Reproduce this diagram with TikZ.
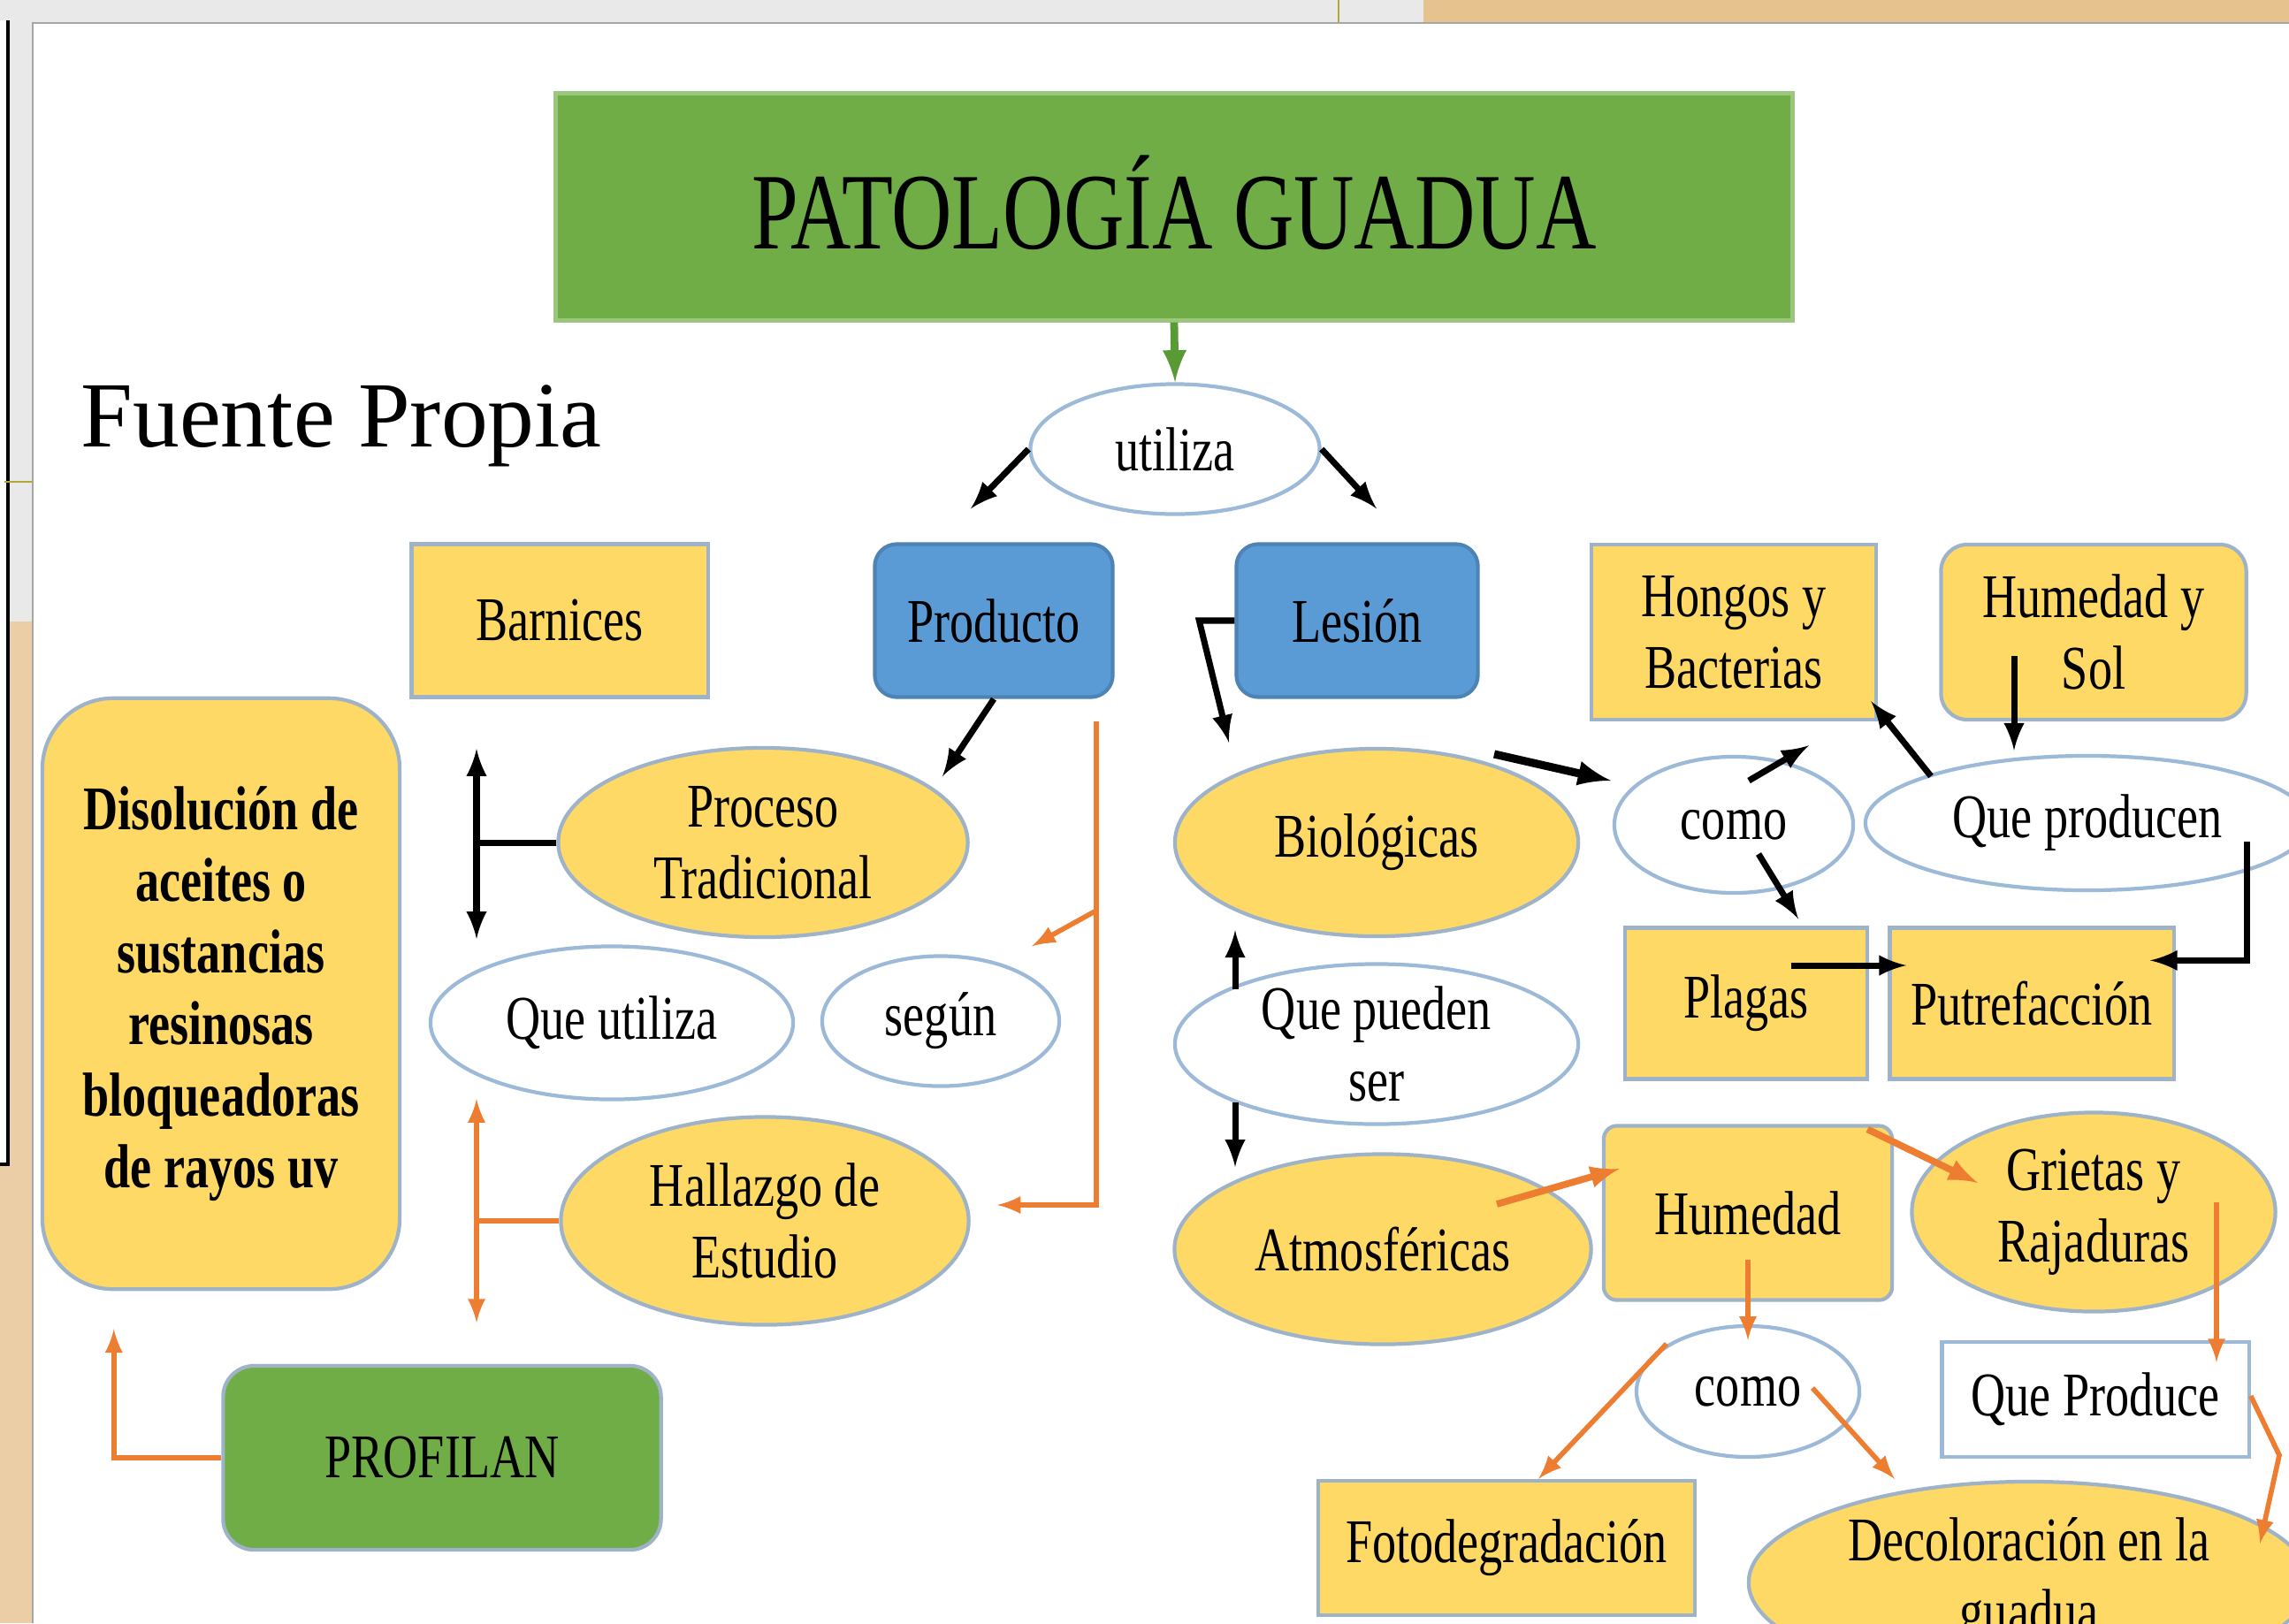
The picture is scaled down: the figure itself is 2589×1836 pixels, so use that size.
\documentclass[tikz,border=0pt]{standalone}
\usepackage{fontspec}
\setmainfont{Liberation Serif}
\newfontfamily\narrowserif[FakeStretch=0.77]{Liberation Serif}
\usetikzlibrary{arrows,calc,shapes}
\tikzset{>=latex}
\definecolor{gold}{HTML}{FFD966}
\definecolor{officeblue}{HTML}{5B9BD5}
\definecolor{officegreen}{HTML}{70AD47}
\definecolor{darkgreen}{HTML}{5A9A35}
\definecolor{orangeline}{HTML}{ED7D31}
\definecolor{edgeblue}{HTML}{9FB3C8}
\definecolor{linkblue}{HTML}{9DB9D8}
\definecolor{stripgray}{HTML}{E9E9E9}
\definecolor{woodtan}{HTML}{E6C28F}
\newcommand\conceptfont{\narrowserif\fontsize{20}{23}\selectfont}
\tikzstyle{yellowbox}=[rectangle,draw=edgeblue,fill=gold,line width=1.2pt,align=center,font=\conceptfont]
\tikzstyle{yellowround}=[yellowbox,rounded corners=0.3cm]
\tikzstyle{yellowellipse}=[ellipse,draw=edgeblue,fill=gold,line width=1.2pt,align=center,inner sep=-6pt,font=\conceptfont]
\tikzstyle{linkword}=[ellipse,draw=linkblue,fill=white,line width=1.2pt,align=center,inner sep=-6pt,font=\conceptfont]
\tikzstyle{blueblock}=[rectangle,draw=officeblue!85!black,fill=officeblue,line width=1.2pt,rounded corners=0.25cm,font=\conceptfont]
\tikzstyle{greenblock}=[rectangle,draw=edgeblue,fill=officegreen,line width=1.2pt,rounded corners=0.35cm,font=\conceptfont]
\tikzstyle{blackarrow}=[->,line width=2pt,black]
\tikzstyle{orangearrow}=[->,line width=1.6pt,orangeline]

\begin{document}
\begin{tikzpicture}[x=0.01cm,y=-0.01cm]
	\useasboundingbox (0,0) rectangle (2589,1836);
	\fill[white] (0,0) rectangle (2589,1836);
	\fill[stripgray] (0,0) rectangle (1610,26);
	\fill[woodtan] (1610,0) rectangle (2589,26);
	\draw[olive!70,line width=0.6pt] (1514,0) -- (1514,26);
	\fill[stripgray] (0,26) rectangle (37,703);
	\fill[woodtan!80!white] (0,703) rectangle (37,1836);
	\fill[white] (0,23) rectangle (9,1317);
	\draw[black,line width=1pt] (9,23) -- (9,1317) -- (0,1317);
	\draw[olive!70,line width=0.6pt] (5,545) -- (37,545);
	\draw[gray!70,line width=0.8pt] (37,1836) -- (37,26) -- (2589,26);

	\node[rectangle,fill=officegreen,draw=officegreen!70!white,line width=1.2pt,minimum width=13.98cm,minimum height=2.57cm,text height=27pt,text depth=0pt,font=\narrowserif\fontsize{35}{40}\selectfont] (title) at (1328,234) {PATOLOGÍA GUADUA};
	\node[anchor=base west,inner sep=0pt,font=\fontsize{30}{36}\selectfont] (fuente) at (91,505) {Fuente Propia};

	\node[linkword,minimum width=3.27cm,minimum height=1.47cm] (utiliza) at (1329,508) {utiliza};
	\node[yellowbox,minimum width=3.35cm,minimum height=1.73cm] (barnices) at (633,702) {Barnices};
	\node[blueblock,minimum width=2.69cm,minimum height=1.73cm] (producto) at (1124,702) {Producto};
	\node[blueblock,minimum width=2.73cm,minimum height=1.73cm] (lesion) at (1535,702) {Lesión};
	\node[yellowbox,minimum width=3.22cm,minimum height=1.98cm] (hongos) at (1961,715) {Hongos y\\Bacterias};
	\node[yellowround,minimum width=3.45cm,minimum height=1.98cm] (humsol) at (2368,715) {Humedad y\\Sol};

	\node[yellowround,rounded corners=0.8cm,minimum width=4.04cm,minimum height=6.68cm,font=\conceptfont\bfseries] (disolucion) at (250,1124) {Disolución de\\aceites o\\sustancias\\resinosas\\bloqueadoras\\de rayos uv};
	\node[yellowellipse,minimum width=4.63cm,minimum height=2.14cm] (proceso) at (863,953) {Proceso\\Tradicional};
	\node[linkword,minimum width=4.10cm,minimum height=1.73cm] (queutiliza) at (692,1157) {Que utiliza};
	\node[linkword,minimum width=2.68cm,minimum height=1.47cm] (segun) at (1064,1155) {según};
	\node[yellowellipse,minimum width=4.61cm,minimum height=2.35cm] (hallazgo) at (865,1381) {Hallazgo de\\Estudio};
	\node[greenblock,minimum width=4.95cm,minimum height=2.08cm] (profilan) at (500,1649) {PROFILAN};

	\node[yellowellipse,minimum width=4.56cm,minimum height=2.12cm] (biologicas) at (1557,953) {Biológicas};
	\node[linkword,minimum width=2.70cm,minimum height=1.54cm] (comobio) at (1961,933) {como};
	\node[linkword,minimum width=5.02cm,minimum height=1.52cm] (queproducen) at (2361,931) {Que producen};
	\node[yellowbox,minimum width=2.74cm,minimum height=1.71cm] (plagas) at (1975,1135) {Plagas};
	\node[yellowbox,minimum width=3.21cm,minimum height=1.71cm] (putrefaccion) at (2298,1135) {Putrefacción};
	\node[linkword,minimum width=4.56cm,minimum height=1.81cm] (quepueden) at (1557,1181) {Que pueden\\ser};

	\node[yellowellipse,minimum width=4.71cm,minimum height=2.15cm] (atmosfericas) at (1564,1413) {Atmosféricas};
	\node[yellowbox,rounded corners=0.15cm,minimum width=3.26cm,minimum height=1.97cm] (humedad) at (1977,1372) {Humedad};
	\node[yellowellipse,minimum width=4.11cm,minimum height=2.25cm] (grietas) at (2368,1371) {Grietas y\\Rajaduras};
	\node[linkword,minimum width=2.52cm,minimum height=1.48cm] (comohum) at (1977,1574) {como};
	\node[rectangle,draw=linkblue,fill=white,line width=1.2pt,minimum width=3.47cm,minimum height=1.30cm,font=\conceptfont] (queproduce) at (2370,1583) {Que Produce};
	\node[yellowbox,minimum width=4.26cm,minimum height=1.52cm] (fotodeg) at (1704,1751) {Fotodegradación};
	\node[yellowellipse,minimum width=6.34cm,minimum height=2.28cm] (decoloracion) at (2295,1790) {\raisebox{3pt}{\begin{tabular}{@{}c@{}}Decoloración en la\\guadua\end{tabular}}};

	\draw[->,line width=2.5pt,darkgreen] (title.south) -- (utiliza.north);
	\draw[blackarrow] (utiliza.west) -- ($(producto.north)+(-26,-38)$);
	\draw[blackarrow] (utiliza.east) -- ($(lesion.north)+(22,-38)$);
	\draw[blackarrow] (producto.south) -- ($(proceso)+(203,-75)$);
	\coordinate (procup) at (539,847);
	\coordinate (procdown) at (539,1062);
	\draw[blackarrow,<->] (procup) -- (procdown);
	\draw[line width=2pt] (proceso.west) -- (proceso.west -| procup);

	\coordinate (branch) at (1240,1030);
	\draw[orangearrow] ($(producto.south)+(116,25)$) |- ($(hallazgo.east)+(30,-18)$);
	\draw[orangearrow] (branch) -- ($(segun.north)+(103,-9)$);
	\coordinate (hallup) at (539,1243);
	\coordinate (halldown) at (539,1496);
	\draw[orangearrow,<->] (hallup) -- (halldown);
	\draw[line width=1.6pt,orangeline] (hallazgo.west) -- (hallazgo.west -| hallup);
	\draw[orangearrow] (profilan.west) -| ($(disolucion.south west)+(83,43)$);

	\draw[blackarrow] (lesion.west) -- ++(-40,0) -- ($(biologicas.north)+(-167,-5)$);
	\draw[blackarrow,line width=2.6pt] ($(biologicas)+(133,-100)$) -- ($(comobio)+(-139,-50)$);
	\draw[blackarrow] ($(comobio)+(17,-50)$) -- ($(hongos.south)+(85,27)$);
	\draw[blackarrow] ($(comobio)+(28,33)$) -- ($(plagas.north)+(59,-8)$);
	\draw[blackarrow] ($(queproducen)+(-177,-53)$) -- ($(hongos.south east)+(-8,-23)$);
	\draw[blackarrow] ($(humsol)+(-90,27)$) -- ($(queproducen.north)+(-83,-4)$);
	\draw[blackarrow] ($(queproducen)+(180,21)$) |- ($(putrefaccion.north east)+(-29,39)$);
	\draw[blackarrow] ($(plagas)+(51,-43)$) -- ($(putrefaccion.west)+(21,-43)$);
	\draw[blackarrow] ($(quepueden)+(-160,-62)$) -- ($(biologicas.south)+(-160,-9)$);
	\draw[blackarrow] ($(quepueden)+(-160,66)$) -- ($(atmosfericas)+(-167,-93)$);

	\draw[orangearrow,line width=2.2pt] ($(atmosfericas)+(129,-51)$) -- ($(humedad.west)+(20,-50)$);
	\draw[orangearrow,line width=2.2pt] ($(humedad.north east)+(-30,6)$) -- ($(grietas)+(-131,-33)$);
	\draw[orangearrow] ($(humedad)+(0,53)$) -- ($(comohum.north)+(0,18)$);
	\draw[orangearrow] ($(comohum)+(-92,-54)$) -- ($(fotodeg.north)+(36,0)$);
	\draw[orangearrow] ($(comohum)+(73,-4)$) -- ($(decoloracion)+(-152,-117)$);
	\draw[orangearrow] ($(grietas)+(139,-11)$) -- ($(queproduce)+(137,-42)$);
	\coordinate (bend) at (2578,1646);
	\draw[orangearrow] ($(queproduce.east)+(0,-4)$) -- (bend) -- ($(decoloracion)+(261,-44)$);
\end{tikzpicture}
\end{document}
